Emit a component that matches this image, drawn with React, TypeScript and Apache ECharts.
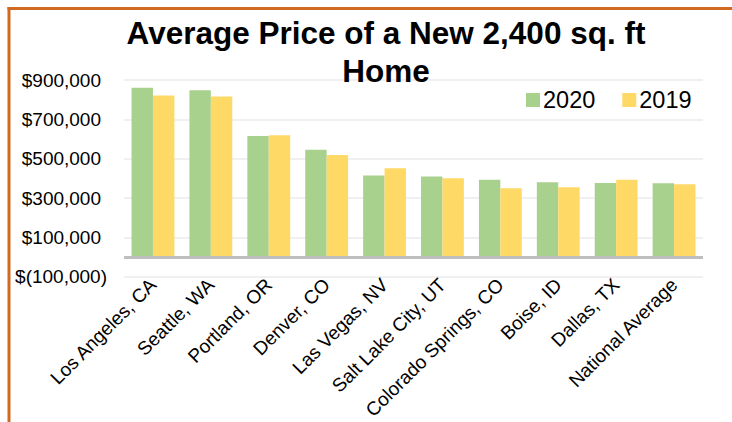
import React, { useEffect, useRef } from "react";
import * as echarts from "echarts";

const categories = [
  "Los Angeles, CA",
  "Seattle, WA",
  "Portland, OR",
  "Denver, CO",
  "Las Vegas, NV",
  "Salt Lake City, UT",
  "Colorado Springs, CO",
  "Boise, ID",
  "Dallas, TX",
  "National Average",
];
const values2020 = [860000, 848000, 615000, 546000, 414000, 410000, 393000, 380000, 377000, 375000];
const values2019 = [821000, 816000, 619000, 519000, 451000, 400000, 350000, 355000, 393000, 370000];
const seriesNames = ["2020", "2019"];
const titleText = "Average Price of a New 2,400 sq. ft\nHome";
const yMin = -100000;
const yMax = 900000;
const yInterval = 200000;

function fmtMoney(v: number): string {
  const s = Math.abs(v).toLocaleString("en-US");
  return v < 0 ? `{n|$(${s})}` : `{n|$${s}}{p|}`;
}

export default function App() {
  const ref = useRef<HTMLDivElement>(null);
  useEffect(() => {
    if (!ref.current) return;
    const chart = echarts.init(ref.current, undefined, { renderer: "svg" });
    const font = "Arial, 'Liberation Sans', sans-serif";
    chart.setOption({
      animation: false,
      textStyle: { fontFamily: font },
      title: {
        text: titleText,
        left: 381,
        top: 9,
        textAlign: "center",
        textStyle: {
          fontFamily: font,
          fontSize: 31.5,
          fontWeight: "bold",
          color: "#000",
          lineHeight: 38,
        },
      },
      legend: {
        data: seriesNames,
        left: 521,
        top: 83,
        itemWidth: 14,
        itemHeight: 14,
        itemGap: 27,
        icon: "rect",
        textStyle: { fontFamily: font, fontSize: 23.5, color: "#000", padding: [2, 0, 0, -2] },
      },
      grid: { left: 124, right: 29, top: 80, bottom: 143, containLabel: false },
      xAxis: {
        type: "category",
        data: categories,
        axisLine: { show: false, onZero: false },
        axisTick: { show: false },
        axisLabel: {
          rotate: 45,
          interval: 0,
          margin: 5,
          fontFamily: font,
          fontSize: 19,
          color: "#000",
        },
      },
      yAxis: {
        type: "value",
        min: yMin,
        max: yMax,
        interval: yInterval,
        axisLine: { show: false },
        axisTick: { show: false },
        splitLine: { lineStyle: { color: "#ebebeb", width: 1.5 } },
        axisLabel: {
          margin: 17,
          formatter: (v: number) => fmtMoney(v),
          rich: {
            n: { fontFamily: font, fontSize: 19, color: "#000" },
            p: { width: 6 },
          },
        },
      },
      series: [
        {
          name: seriesNames[0],
          type: "bar",
          data: values2020,
          itemStyle: { color: "#A9D18E" },
          barGap: "0%",
          barCategoryGap: "26%",
          markLine: {
            silent: true,
            symbol: "none",
            label: { show: false },
            lineStyle: { color: "#bfbfbf", width: 3, type: "solid" },
            data: [{ yAxis: 0 }],
          },
        },
        {
          name: seriesNames[1],
          type: "bar",
          data: values2019,
          itemStyle: { color: "#FFD966" },
          barGap: "0%",
          barCategoryGap: "26%",
        },
      ],
      graphic: [
        {
          type: "line",
          shape: { x1: 7.5, y1: 8.5, x2: 732, y2: 8.5 },
          style: { stroke: "#CF6A20", lineWidth: 3 },
        },
        {
          type: "line",
          shape: { x1: 9, y1: 7, x2: 9, y2: 422 },
          style: { stroke: "#CF6A20", lineWidth: 3 },
        },
      ],
    });
    return () => chart.dispose();
  }, []);
  return <div ref={ref} style={{ width: 732, height: 422, position: "absolute", left: 0, top: 0 }} />;
}
